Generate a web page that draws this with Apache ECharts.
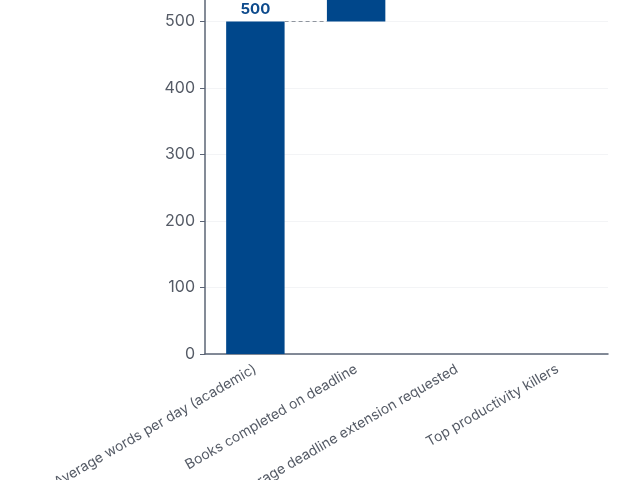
<!DOCTYPE html>
<html><head><meta charset="utf-8">
<script src="https://cdn.jsdelivr.net/npm/echarts@6/dist/echarts.min.js"></script>
<style>html,body{margin:0;padding:0;background:#fff;overflow:hidden;width:640px;height:480px}#c{position:absolute;left:0;top:-45px;width:640px;height:525px}</style>
</head><body><div id="c"></div>
<script>
const categories = ["Average words per day (academic)", "Books completed on deadline", "Average deadline extension requested", "Top productivity killers"];
const deltas = [500, 60, null, null];
const yTicks = [0, 100, 200, 300, 400, 500, 600];

const bases = [], values = [];
let run = 0;
deltas.forEach((d, i) => {
  if (d == null) { bases.push(null); values.push(null); return; }
  bases.push(i === 0 ? 0 : run);
  values.push(d);
  run += d;
});
const connectors = [];
let acc = 0;
for (let i = 0; i < deltas.length - 1; i++) {
  if (deltas[i] == null || deltas[i + 1] == null) continue;
  acc += deltas[i];
  connectors.push([i, acc]);
}

const chart = echarts.init(document.getElementById('c'), null, {renderer: 'canvas'});
const font = 'Inter, "Noto Sans", sans-serif';
chart.setOption({
  animation: false,
  grid: {left: 205, right: 32, top: 0, bottom: 126, containLabel: false, outerBoundsMode: 'none'},
  xAxis: {
    type: 'category', data: categories,
    axisLine: {lineStyle: {color: '#5b6475', width: 1.5}},
    axisTick: {alignWithLabel: true, length: 5, lineStyle: {color: '#5b6475'}},
    axisLabel: {rotate: 30, color: '#555b66', fontSize: 14, fontFamily: font, interval: 0, margin: 14}
  },
  yAxis: {
    type: 'value', min: yTicks[0], max: yTicks[yTicks.length - 1], interval: 100,
    axisLine: {show: true, lineStyle: {color: '#5b6475', width: 1.5}},
    axisTick: {show: true, length: 5, lineStyle: {color: '#5b6475'}},
    axisLabel: {color: '#555b66', fontSize: 16, fontFamily: font, margin: 10},
    splitLine: {lineStyle: {color: '#f3f4f6'}}
  },
  series: [
    {type: 'bar', stack: 'w', data: bases, barWidth: '58%', itemStyle: {color: 'transparent'}, silent: true},
    {type: 'bar', stack: 'w', data: values, barWidth: '58%', itemStyle: {color: '#00478b'},
     label: {show: true, position: 'top', distance: 5, color: '#0d4a8c', fontWeight: 'bold', fontSize: 15, fontFamily: font}},
    {type: 'custom', data: connectors, silent: true, z: 3,
     renderItem: function (params, api) {
       const i = api.value(0), v = api.value(1);
       const p1 = api.coord([i, v]), p2 = api.coord([i + 1, v]);
       const bw = api.size([1, 0])[0] * 0.58;
       return {type: 'line', shape: {x1: p1[0] + bw / 2, y1: p1[1], x2: p2[0] - bw / 2, y2: p2[1]},
               style: {stroke: '#8f959e', lineWidth: 1, lineDash: [4, 3]}};
     }}
  ]
});
</script></body></html>
